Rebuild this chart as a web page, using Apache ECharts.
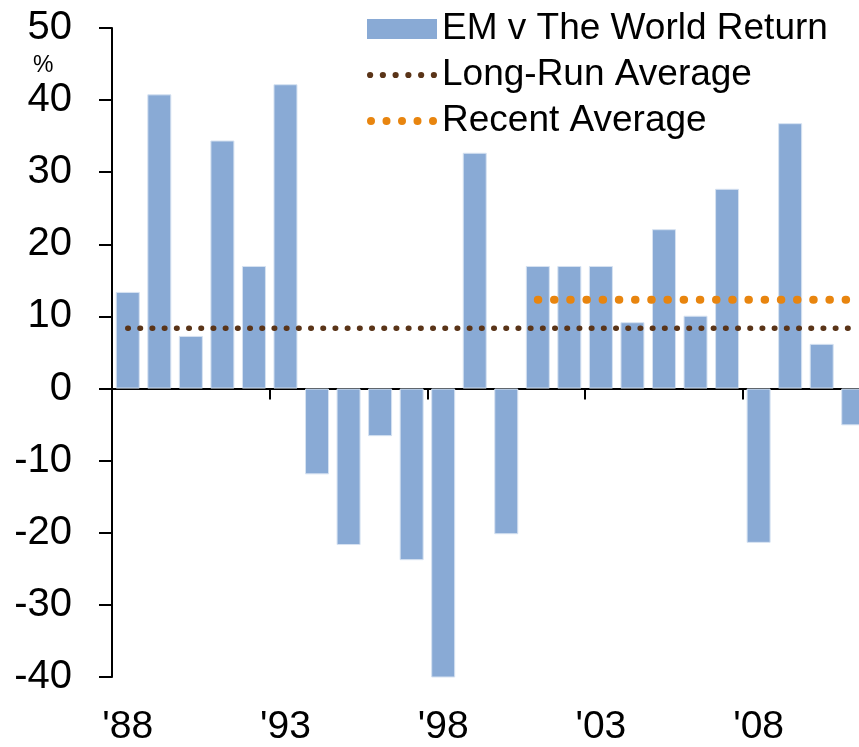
<!DOCTYPE html>
<html>
<head>
<meta charset="utf-8">
<script src="https://cdn.jsdelivr.net/npm/echarts@6/dist/echarts.min.js"></script>
<style>
html,body{margin:0;padding:0;background:#fff;overflow:hidden;width:859px;height:747px;}
#main{width:880px;height:747px;}
</style>
</head>
<body>
<div id="main"></div>
<script>
var years = ['1988','1989','1990','1991','1992','1993','1994','1995','1996','1997','1998','1999','2000','2001','2002','2003','2004','2005','2006','2007','2008','2009','2010','2011'];
var emReturn = [13.4, 40.8, 7.3, 34.4, 17.0, 42.2, -11.9, -21.7, -6.6, -23.8, -40.1, 32.7, -20.2, 17.0, 17.0, 17.0, 9.2, 22.1, 10.1, 27.7, -21.4, 36.8, 6.2, -5.1];
var longRunAvg = [8.35, 8.35, 8.35, 8.35, 8.35, 8.35, 8.35, 8.35, 8.35, 8.35, 8.35, 8.35, 8.35, 8.35, 8.35, 8.35, 8.35, 8.35, 8.35, 8.35, 8.35, 8.35, 8.35, 8.35];
var recentAvg = [null, null, null, null, null, null, null, null, null, null, null, null, null, 12.3, 12.3, 12.3, 12.3, 12.3, 12.3, 12.3, 12.3, 12.3, 12.3, 12.3];
var seriesNames = ['EM v The World Return', 'Long-Run Average', 'Recent Average'];
var yUnit = '%';

function shortLabel(v){ return "'" + v.slice(2); }
function dotsPath(n, r, gap){
  var p = '';
  for (var i = 0; i < n; i++) {
    var cx = r + i * gap;
    p += 'M' + (cx - r) + ',' + r + ' a' + r + ',' + r + ' 0 1,0 ' + (2*r) + ',0 a' + r + ',' + r + ' 0 1,0 ' + (-2*r) + ',0 ';
  }
  return 'path://' + p;
}

var FONT = '"Liberation Sans", Arial, sans-serif';
var chart = echarts.init(document.getElementById('main'), null, {renderer:'canvas'});
chart.setOption({
  animation: false,
  backgroundColor: '#ffffff',
  textStyle: {fontFamily: FONT},
  grid: {left: 112, top: 28, width: 757, height: 650, containLabel: false},
  legend: {
    orient: 'vertical',
    left: 367, top: 9, padding: 0,
    itemWidth: 70, itemHeight: 20, itemGap: 6,
    symbolKeepAspect: true,
    itemStyle: {borderWidth: 0},
    textStyle: {fontSize: 37, color: '#000', fontFamily: FONT, lineHeight: 40},
    data: [
      {name: seriesNames[0], icon: 'rect'},
      {name: seriesNames[1], icon: dotsPath(6, 3, 12.3)},
      {name: seriesNames[2], icon: dotsPath(5, 4, 15.5)}
    ]
  },
  xAxis: [{
    type: 'category', data: years, boundaryGap: true,
    axisLine: {onZero: true, lineStyle: {color: '#000', width: 2}},
    axisTick: {show: true, interval: 4, length: 11, lineStyle: {color: '#000', width: 2}},
    axisLabel: {show: false},
    splitLine: {show: false}
  },{
    type: 'category', data: years, position: 'bottom', boundaryGap: true,
    axisLine: {show: false}, axisTick: {show: false},
    axisLabel: {show: true, interval: 4, margin: 31, fontSize: 39, color: '#000', fontFamily: FONT,
      formatter: function(v){ return shortLabel(v); }},
    splitLine: {show: false}
  }],
  yAxis: {
    type: 'value', min: -40, max: 50, interval: 10,
    axisLine: {show: true, lineStyle: {color: '#000', width: 2}},
    axisTick: {show: true, length: 13, lineStyle: {color: '#000', width: 2}},
    axisLabel: {fontSize: 40, color: '#000', margin: 40, fontFamily: FONT},
    splitLine: {show: false}
  },
  graphic: [{
    type: 'text', left: 33, top: 54,
    style: {text: yUnit, fontSize: 23, fill: '#000', fontFamily: FONT}
  }],
  series: [{
    name: seriesNames[0], type: 'bar', data: emReturn, barWidth: 24,
    itemStyle: {color: '#89aad5', borderColor: '#d6e2f1', borderWidth: 1}
  },{
    name: seriesNames[1], type: 'line', data: longRunAvg, symbol: 'none',
    lineStyle: {color: '#5a3418', width: 5.5, type: [0.5, 11.7], cap: 'round'},
    itemStyle: {color: '#5a3418', borderWidth: 0}
  },{
    name: seriesNames[2], type: 'line', data: recentAvg, symbol: 'none',
    lineStyle: {color: '#e8850f', width: 8, type: [0.5, 15.7], cap: 'round'},
    itemStyle: {color: '#e8850f', borderWidth: 0}
  }]
});
</script>
</body>
</html>
